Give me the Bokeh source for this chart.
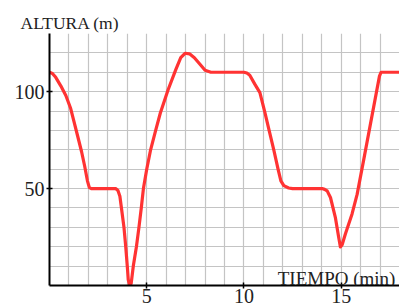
from bokeh.plotting import figure
from bokeh.models import FixedTicker, SingleIntervalTicker, Label, Range1d, Title
from bokeh.embed import file_html
from bokeh.resources import INLINE

# data
tiempo = [0, 0.15, 0.32, 0.58, 0.84, 1.09, 1.26, 1.45, 1.65, 1.81, 1.95, 2.05, 2.15,
          3.4, 3.52, 3.62, 3.7, 3.83, 3.92, 4.0, 4.05, 4.12, 4.2, 4.31, 4.47, 4.6, 4.72,
          4.83, 5.0, 5.2, 5.46, 5.7, 6.1, 6.5, 6.75, 6.97, 7.2, 7.45, 7.75, 8.0, 8.3,
          10.0, 10.15, 10.3, 10.55, 10.82, 11.07, 11.31, 11.54, 11.76, 11.9, 12.05, 12.3,
          12.5, 14.02, 14.15, 14.28, 14.45, 14.7, 14.87, 14.96, 15.05, 15.22, 15.56,
          15.82, 16.2, 16.5, 16.8, 16.97, 17.05, 18.0]
altura = [110, 109.4, 107.4, 103, 98, 91.3, 84.5, 77, 69, 61.5, 54, 50.5, 50,
          50, 49, 46, 40, 30, 20, 10, 3, 0, 1, 10, 20, 30, 40,
          50, 60, 70, 80, 89, 101, 111.5, 117.5, 119.8, 119.5, 117.5, 114, 111, 110,
          110, 109.6, 108.5, 104, 99.5, 89.6, 79.4, 69.7, 59.8, 54, 51.5, 50.3,
          50, 50, 49.6, 48.8, 45.4, 35.2, 25, 19.9, 21, 26.7, 36.9,
          47, 67, 83, 99, 108, 110, 110]
x_ticks = [5, 10, 15]
y_ticks = [50, 100]
y_label = "ALTURA (m)"
x_label = "TIEMPO (min)"

FONT = "Liberation Serif"

p = figure(width=399, height=305, output_backend="svg", toolbar_location=None,
           x_range=Range1d(0, 18), y_range=Range1d(0, 130),
           min_border_left=49, min_border_top=33, min_border_bottom=18, min_border_right=0)
p.outline_line_color = None
p.background_fill_color = "white"

p.title = Title(text=y_label, align="left", offset=-29, standoff=2,
                text_font=FONT, text_font_size="17.5px", text_font_style="normal",
                text_color="#222222")

p.xgrid[0].ticker = SingleIntervalTicker(interval=1)
p.ygrid[0].ticker = SingleIntervalTicker(interval=10)
for g in (p.xgrid[0], p.ygrid[0]):
    g.grid_line_color = "#c4c4c4"
    g.grid_line_width = 1.2

p.xaxis.ticker = FixedTicker(ticks=x_ticks)
p.yaxis.ticker = FixedTicker(ticks=y_ticks)
for ax in (p.xaxis[0], p.yaxis[0]):
    ax.axis_line_color = "black"
    ax.axis_line_width = 2
    ax.major_tick_line_color = "black"
    ax.major_tick_line_width = 1.5
    ax.major_tick_in = 3
    ax.major_tick_out = 3
    ax.minor_tick_line_color = None
    ax.major_label_text_font = FONT
    ax.major_label_text_font_size = "20px"
    ax.major_label_text_color = "#222222"
p.xaxis.major_label_standoff = 0
p.yaxis.major_label_standoff = 2

p.line(tiempo, altura, line_color="#ff3333", line_width=3.2, line_join="round", line_cap="round")

p.add_layout(Label(x=17.79, y=3.4, text=x_label, text_font=FONT, text_font_size="19px",
                   text_color="#222222", text_align="right", text_baseline="alphabetic"))

open("out.html", "w").write(file_html(p, INLINE))
